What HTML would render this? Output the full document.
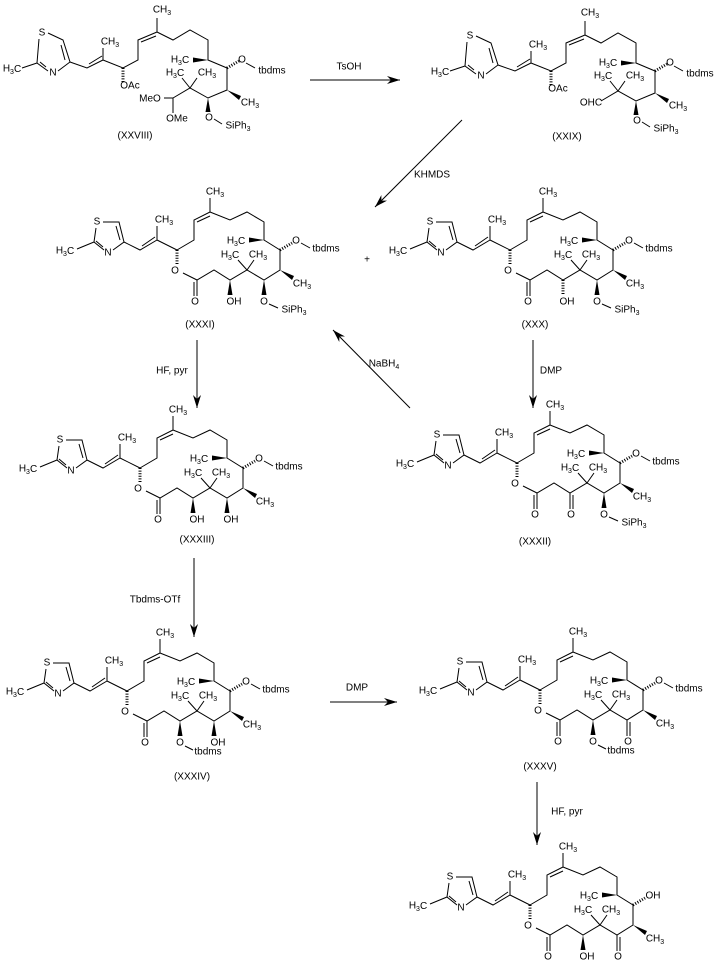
<!DOCTYPE html>
<html><head><meta charset="utf-8">
<style>
html,body{margin:0;padding:0;background:#fff;}
svg{display:block;}
text{font-family:"Liberation Sans",sans-serif;font-size:10px;fill:#000;text-anchor:middle;dominant-baseline:central;}
.l{stroke:#000;stroke-width:1;fill:none;}
.h{stroke:#000;stroke-width:3;stroke-dasharray:1 1.6;fill:none;}
.w{fill:#000;stroke:none;}
</style></head>
<body>
<svg width="718" height="969" viewBox="0 0 718 969" xmlns="http://www.w3.org/2000/svg">
<defs>
<marker id="ah" markerWidth="14" markerHeight="10" refX="13" refY="5" orient="auto" markerUnits="userSpaceOnUse">
<path d="M0,1 L13,5 L0,9 L4,5 Z" fill="#000"/>
</marker>
<g id="ring">
<path class="l" d="M6,0 L22,0 L27,20 L16,28 M7,28 L-3,20 L-1,6 M19,4 L23,18 M6,25 L-1,19 M-3,20 L-20,27
M27,20 L43,28 L60,18 M45,24 L58,15 M60,18 L60,4 M60,18 L80,28
M80,28 L97,18 L97,-2 L113,-10 M100,0 L113,-6 M113,-10 L113,-24
M113,-10 L133,-2 L150,-10 L167,0 L167,18 L183,28 L183,48 L167,58 L150,48 L133,58 L117,48 L100,58 L86,51
M150,48 L141,38 M150,48 L157,38 M100,58 L100,74 M97,60 L97,74"/>
<path class="h" d="M80,28 L80,43"/>
<polygon class="w" points="167,18 152,15.5 152,20.5"/>
<polygon class="w" points="183,48 197,54 195,58"/>
</g>
</defs>

<!-- (XXVIII) open chain -->
<g id="c28">
<text x="42" y="33">S</text><text x="53" y="73">N</text>
<text x="12" y="69">H<tspan font-size="7" dy="3">3</tspan><tspan dy="-3">C</tspan></text>
<path class="l" d="M48,33 L63,40 L70,62 L58,71 M48,71 L37,63 L39,39 M61,45 L65,60 M46,67 L40,62 M37,63 L22,68
M70,62 L87,68 L103,60 M89,64 L102,56 M103,60 L103,48 M103,60 L123,68 L138,60 L138,40 L157,32 M141,42 L156,36 M157,32 L157,18
M157,32 L173,40 L190,30 L208,40 L208,60 L227,68 L227,90 L208,98 L190,88 L173,98 M190,88 L182,78 M190,88 L197,78
M173,98 L164,98 M173,98 L173,113 M246,63 L255,68 M214,119 L222,124"/>
<path class="h" d="M123,68 L123,82 M227,68 L239,61"/>
<polygon class="w" points="208,60 193,57.5 193,62.5"/>
<polygon class="w" points="227,90 241,96 239,100"/>
<polygon class="w" points="208,98 205.5,112 210.5,112"/>
<text x="110" y="42">CH<tspan font-size="7" dy="3">3</tspan></text>
<text x="130" y="86">OAc</text>
<text x="162" y="10">CH<tspan font-size="7" dy="3">3</tspan></text>
<text x="180" y="60">H<tspan font-size="7" dy="3">3</tspan><tspan dy="-3">C</tspan></text>
<text x="242" y="60">O</text><text x="272" y="71">tbdms</text>
<text x="250" y="103">CH<tspan font-size="7" dy="3">3</tspan></text>
<text x="175" y="73">H<tspan font-size="7" dy="3">3</tspan><tspan dy="-3">C</tspan></text>
<text x="207" y="73">CH<tspan font-size="7" dy="3">3</tspan></text>
<text x="150" y="99">MeO</text><text x="177" y="119">OMe</text>
<text x="209" y="118">O</text><text x="238" y="126">SiPh<tspan font-size="7" dy="3">3</tspan></text>
<text x="135" y="136">(XXVIII)</text>
</g>

<!-- (XXIX) -->
<g transform="translate(428,3)">
<text x="42" y="33">S</text><text x="53" y="73">N</text>
<text x="12" y="69">H<tspan font-size="7" dy="3">3</tspan><tspan dy="-3">C</tspan></text>
<path class="l" d="M48,33 L63,40 L70,62 L58,71 M48,71 L37,63 L39,39 M61,45 L65,60 M46,67 L40,62 M37,63 L22,68
M70,62 L87,68 L103,60 M89,64 L102,56 M103,60 L103,48 M103,60 L123,68 L138,60 L138,40 L157,32 M141,42 L156,36 M157,32 L157,18
M157,32 L173,40 L190,30 L208,40 L208,60 L227,68 L227,90 L208,98 L190,88 L173,98 M190,88 L182,78 M190,88 L197,78
M246,63 L255,68 M214,119 L222,124"/>
<path class="h" d="M123,68 L123,82 M227,68 L239,61"/>
<polygon class="w" points="208,60 193,57.5 193,62.5"/>
<polygon class="w" points="227,90 241,96 239,100"/>
<polygon class="w" points="208,98 205.5,112 210.5,112"/>
<text x="110" y="42">CH<tspan font-size="7" dy="3">3</tspan></text>
<text x="130" y="86">OAc</text>
<text x="162" y="10">CH<tspan font-size="7" dy="3">3</tspan></text>
<text x="180" y="60">H<tspan font-size="7" dy="3">3</tspan><tspan dy="-3">C</tspan></text>
<text x="242" y="60">O</text><text x="272" y="71">tbdms</text>
<text x="250" y="103">CH<tspan font-size="7" dy="3">3</tspan></text>
<text x="175" y="73">H<tspan font-size="7" dy="3">3</tspan><tspan dy="-3">C</tspan></text>
<text x="207" y="73">CH<tspan font-size="7" dy="3">3</tspan></text>
<text x="163" y="100">OHC</text>
<text x="209" y="118">O</text><text x="238" y="126">SiPh<tspan font-size="7" dy="3">3</tspan></text>
<text x="139" y="134">(XXIX)</text>
</g>

<!-- macrocycle instances -->
<!-- XXXI -->
<g transform="translate(97,222)">
<use href="#ring"/>
<text x="0" y="0">S</text><text x="11" y="31">N</text>
<text x="-32" y="29">H<tspan font-size="7" dy="3">3</tspan><tspan dy="-3">C</tspan></text>
<text x="67" y="-2">CH<tspan font-size="7" dy="3">3</tspan></text>
<text x="118" y="-30">CH<tspan font-size="7" dy="3">3</tspan></text>
<text x="139" y="19">H<tspan font-size="7" dy="3">3</tspan><tspan dy="-3">C</tspan></text>
<text x="78" y="49">O</text><text x="98" y="80">O</text>
<text x="133" y="33">H<tspan font-size="7" dy="3">3</tspan><tspan dy="-3">C</tspan></text>
<text x="161" y="33">CH<tspan font-size="7" dy="3">3</tspan></text>
<text x="205" y="62">CH<tspan font-size="7" dy="3">3</tspan></text>
<path class="h" d="M183,28 L195,21"/><path class="l" d="M204,21 L213,26 M172,82 L181,86"/>
<text x="199" y="19">O</text><text x="229" y="27">tbdms</text>
<polygon class="w" points="167,58 164.5,73 169.5,73"/>
<text x="167" y="80">O</text><text x="197" y="88">SiPh<tspan font-size="7" dy="3">3</tspan></text>
<polygon class="w" points="133,58 130.5,73 135.5,73"/>
<text x="137" y="80">OH</text>
<text x="103" y="103">(XXXI)</text>
</g>

<text x="367" y="260">+</text>

<!-- XXX -->
<g transform="translate(430,222)">
<use href="#ring"/>
<text x="0" y="0">S</text><text x="11" y="31">N</text>
<text x="-32" y="29">H<tspan font-size="7" dy="3">3</tspan><tspan dy="-3">C</tspan></text>
<text x="67" y="-2">CH<tspan font-size="7" dy="3">3</tspan></text>
<text x="118" y="-30">CH<tspan font-size="7" dy="3">3</tspan></text>
<text x="139" y="19">H<tspan font-size="7" dy="3">3</tspan><tspan dy="-3">C</tspan></text>
<text x="78" y="49">O</text><text x="98" y="80">O</text>
<text x="133" y="33">H<tspan font-size="7" dy="3">3</tspan><tspan dy="-3">C</tspan></text>
<text x="161" y="33">CH<tspan font-size="7" dy="3">3</tspan></text>
<text x="205" y="62">CH<tspan font-size="7" dy="3">3</tspan></text>
<path class="h" d="M183,28 L195,21"/><path class="l" d="M204,21 L213,26 M172,82 L181,86"/>
<text x="199" y="19">O</text><text x="229" y="27">tbdms</text>
<polygon class="w" points="167,58 164.5,73 169.5,73"/>
<text x="167" y="80">O</text><text x="197" y="88">SiPh<tspan font-size="7" dy="3">3</tspan></text>
<path class="h" d="M133,58 L133,73"/>
<text x="137" y="80">OH</text>
<text x="105" y="103">(XXX)</text>
</g>

<!-- XXXII -->
<g transform="translate(437,435)">
<use href="#ring"/>
<text x="0" y="0">S</text><text x="11" y="31">N</text>
<text x="-32" y="29">H<tspan font-size="7" dy="3">3</tspan><tspan dy="-3">C</tspan></text>
<text x="67" y="-2">CH<tspan font-size="7" dy="3">3</tspan></text>
<text x="118" y="-30">CH<tspan font-size="7" dy="3">3</tspan></text>
<text x="139" y="19">H<tspan font-size="7" dy="3">3</tspan><tspan dy="-3">C</tspan></text>
<text x="78" y="49">O</text><text x="98" y="80">O</text>
<text x="133" y="33">H<tspan font-size="7" dy="3">3</tspan><tspan dy="-3">C</tspan></text>
<text x="161" y="33">CH<tspan font-size="7" dy="3">3</tspan></text>
<text x="205" y="62">CH<tspan font-size="7" dy="3">3</tspan></text>
<path class="h" d="M183,28 L195,21"/><path class="l" d="M204,21 L213,26 M172,82 L181,86"/>
<text x="199" y="19">O</text><text x="229" y="27">tbdms</text>
<polygon class="w" points="167,58 164.5,73 169.5,73"/>
<text x="167" y="80">O</text><text x="197" y="88">SiPh<tspan font-size="7" dy="3">3</tspan></text>
<path class="l" d="M133,58 L133,74 M136,60 L136,74"/>
<text x="134" y="80">O</text>
<text x="98" y="107">(XXXII)</text>
</g>

<!-- XXXIII -->
<g transform="translate(60,440)">
<use href="#ring"/>
<text x="0" y="0">S</text><text x="11" y="31">N</text>
<text x="-32" y="29">H<tspan font-size="7" dy="3">3</tspan><tspan dy="-3">C</tspan></text>
<text x="67" y="-2">CH<tspan font-size="7" dy="3">3</tspan></text>
<text x="118" y="-30">CH<tspan font-size="7" dy="3">3</tspan></text>
<text x="139" y="19">H<tspan font-size="7" dy="3">3</tspan><tspan dy="-3">C</tspan></text>
<text x="78" y="49">O</text><text x="98" y="80">O</text>
<text x="133" y="33">H<tspan font-size="7" dy="3">3</tspan><tspan dy="-3">C</tspan></text>
<text x="161" y="33">CH<tspan font-size="7" dy="3">3</tspan></text>
<text x="205" y="62">CH<tspan font-size="7" dy="3">3</tspan></text>
<path class="h" d="M183,28 L195,21"/><path class="l" d="M204,21 L213,26"/>
<text x="199" y="19">O</text><text x="229" y="27">tbdms</text>
<polygon class="w" points="167,58 164.5,73 169.5,73"/>
<text x="171" y="80">OH</text>
<polygon class="w" points="133,58 130.5,73 135.5,73"/>
<text x="137" y="80">OH</text>
<text x="137" y="100">(XXXIII)</text>
</g>

<!-- XXXIV -->
<g transform="translate(47,663)">
<use href="#ring"/>
<text x="0" y="0">S</text><text x="11" y="31">N</text>
<text x="-32" y="29">H<tspan font-size="7" dy="3">3</tspan><tspan dy="-3">C</tspan></text>
<text x="67" y="-2">CH<tspan font-size="7" dy="3">3</tspan></text>
<text x="118" y="-30">CH<tspan font-size="7" dy="3">3</tspan></text>
<text x="139" y="19">H<tspan font-size="7" dy="3">3</tspan><tspan dy="-3">C</tspan></text>
<text x="78" y="49">O</text><text x="98" y="80">O</text>
<text x="133" y="33">H<tspan font-size="7" dy="3">3</tspan><tspan dy="-3">C</tspan></text>
<text x="161" y="33">CH<tspan font-size="7" dy="3">3</tspan></text>
<text x="205" y="62">CH<tspan font-size="7" dy="3">3</tspan></text>
<path class="h" d="M183,28 L195,21"/><path class="l" d="M204,21 L213,26 M138,83 L146,87"/>
<text x="199" y="19">O</text><text x="229" y="27">tbdms</text>
<polygon class="w" points="167,58 164.5,73 169.5,73"/>
<text x="171" y="80">OH</text>
<polygon class="w" points="133,58 130.5,73 135.5,73"/>
<text x="133" y="80">O</text><text x="161" y="89">tbdms</text>
<text x="145" y="114">(XXXIV)</text>
</g>

<!-- XXXV -->
<g transform="translate(460,662)">
<use href="#ring"/>
<text x="0" y="0">S</text><text x="11" y="31">N</text>
<text x="-32" y="29">H<tspan font-size="7" dy="3">3</tspan><tspan dy="-3">C</tspan></text>
<text x="67" y="-2">CH<tspan font-size="7" dy="3">3</tspan></text>
<text x="118" y="-30">CH<tspan font-size="7" dy="3">3</tspan></text>
<text x="139" y="19">H<tspan font-size="7" dy="3">3</tspan><tspan dy="-3">C</tspan></text>
<text x="78" y="49">O</text><text x="98" y="80">O</text>
<text x="133" y="33">H<tspan font-size="7" dy="3">3</tspan><tspan dy="-3">C</tspan></text>
<text x="161" y="33">CH<tspan font-size="7" dy="3">3</tspan></text>
<text x="205" y="62">CH<tspan font-size="7" dy="3">3</tspan></text>
<path class="h" d="M183,28 L195,21"/><path class="l" d="M204,21 L213,26 M138,83 L146,87"/>
<text x="199" y="19">O</text><text x="229" y="27">tbdms</text>
<path class="l" d="M167,58 L167,74 M170,60 L170,74"/>
<text x="168" y="80">O</text>
<polygon class="w" points="133,58 130.5,73 135.5,73"/>
<text x="133" y="80">O</text><text x="161" y="89">tbdms</text>
<text x="80" y="105">(XXXV)</text>
</g>

<!-- final -->
<g transform="translate(450,877)">
<use href="#ring"/>
<text x="0" y="0">S</text><text x="11" y="31">N</text>
<text x="-32" y="29">H<tspan font-size="7" dy="3">3</tspan><tspan dy="-3">C</tspan></text>
<text x="67" y="-2">CH<tspan font-size="7" dy="3">3</tspan></text>
<text x="118" y="-30">CH<tspan font-size="7" dy="3">3</tspan></text>
<text x="139" y="19">H<tspan font-size="7" dy="3">3</tspan><tspan dy="-3">C</tspan></text>
<text x="78" y="49">O</text><text x="98" y="80">O</text>
<text x="133" y="33">H<tspan font-size="7" dy="3">3</tspan><tspan dy="-3">C</tspan></text>
<text x="161" y="33">CH<tspan font-size="7" dy="3">3</tspan></text>
<text x="205" y="62">CH<tspan font-size="7" dy="3">3</tspan></text>
<path class="h" d="M183,28 L195,21"/>
<text x="203" y="19">OH</text>
<path class="l" d="M167,58 L167,74 M170,60 L170,74"/>
<text x="168" y="80">O</text>
<polygon class="w" points="133,58 130.5,73 135.5,73"/>
<text x="137" y="80">OH</text>
</g>

<!-- arrows -->
<path class="l" d="M310,80 L400,80" marker-end="url(#ah)"/>
<text x="349" y="67">TsOH</text>
<path class="l" d="M462,120 L375,207" marker-end="url(#ah)"/>
<text x="432" y="175">KHMDS</text>
<path class="l" d="M197,340 L197,408" marker-end="url(#ah)"/>
<text x="172" y="371">HF, pyr</text>
<path class="l" d="M410,408 L333,330" marker-end="url(#ah)"/>
<text x="384" y="364">NaBH<tspan font-size="7" dy="3">4</tspan></text>
<path class="l" d="M533,340 L533,408" marker-end="url(#ah)"/>
<text x="551" y="371">DMP</text>
<path class="l" d="M194,558 L194,637" marker-end="url(#ah)"/>
<text x="155" y="600">Tbdms-OTf</text>
<path class="l" d="M330,702 L397,702" marker-end="url(#ah)"/>
<text x="357" y="688">DMP</text>
<path class="l" d="M537,782 L537,845" marker-end="url(#ah)"/>
<text x="567" y="812">HF, pyr</text>
</svg>
</body></html>
